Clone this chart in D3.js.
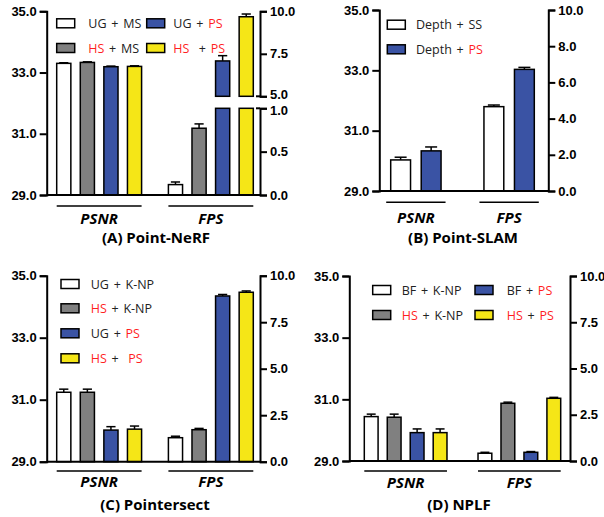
<!DOCTYPE html>
<html>
<head>
<meta charset="utf-8">
<script src="https://cdn.jsdelivr.net/npm/d3@7"></script>
<style>
  body { margin: 0; background: #fff; }
  svg { display: block; }
</style>
</head>
<body>
<svg width="604" height="517"></svg>
<script>
// metric groups on the x axis
let groups = ["PSNR", "FPS"];

// (A) Point-NeRF
let seriesA = ["UG + MS", "HS + MS", "UG + PS", "HS  + PS"];
let psnrA = [33.30, 33.33, 33.19, 33.20];
let psnrErrA = [0.02, 0.02, 0.02, 0.02];
let fpsA = [0.12, 0.77, 7.08, 9.68];
let fpsErrA = [0.03, 0.05, 0.31, 0.16];

// (B) Point-SLAM
let seriesB = ["Depth + SS", "Depth + PS"];
let psnrB = [30.03, 30.33];
let psnrErrB = [0.09, 0.13];
let fpsB = [4.66, 6.72];
let fpsErrB = [0.09, 0.11];

// (C) Pointersect
let seriesC = ["UG + K-NP", "HS + K-NP", "UG + PS", "HS +  PS"];
let psnrC = [31.24, 31.24, 30.02, 30.05];
let psnrErrC = [0.10, 0.10, 0.11, 0.10];
let fpsC = [1.29, 1.72, 8.91, 9.11];
let fpsErrC = [0.08, 0.07, 0.08, 0.07];

// (D) NPLF
let seriesD = ["BF + K-NP", "HS + K-NP", "BF + PS", "HS + PS"];
let psnrD = [30.44, 30.42, 29.92, 29.92];
let psnrErrD = [0.08, 0.10, 0.12, 0.12];
let fpsD = [0.42, 3.12, 0.47, 3.39];
let fpsErrD = [0.05, 0.06, 0.04, 0.05];

// tick labels
let psnrTicks = [29, 31, 33, 35];
let fpsTicksLowA = [0, 0.5, 1];
let fpsTicksHighA = [5, 7.5, 10];
let fpsTicksB = [0, 2, 4, 6, 8, 10];
let fpsTicksCD = [0, 2.5, 5, 7.5, 10];

let fourColors = ["#ffffff", "#808080", "#3a53a4", "#f5e617"];
let twoColors = ["#ffffff", "#3a53a4"];
let red = "#ff1f1f";

let svg = d3.select("svg");

let fmt = d3.format(".1f");

let styleAxis = (g) => {
    g.select(".domain").attr("stroke", "#000").attr("stroke-width", 2);
    g.selectAll(".tick line").attr("stroke", "#000").attr("stroke-width", 2);
    g.selectAll(".tick text")
        .attr("fill", "#000")
        .style("font-family", "'Liberation Sans', Arial, sans-serif")
        .style("font-weight", "bold")
        .style("font-size", "13px");
};

let addLabel = (sel, label) => {
    label.split(/(HS|PS)/).forEach((part) => {
        if (part === "") return;
        sel.append("tspan")
            .attr("fill", (part === "HS" || part === "PS") ? red : "#222")
            .text(part);
    });
};

let drawPanel = (p) => {
    let g = svg.append("g");

    let yLeft = d3.scaleLinear().domain([29, 35]).range([p.bottom, p.top]);

    let x0 = d3.scaleBand().domain(groups).range(p.barsRange).paddingInner(p.groupPad);
    let x1 = d3.scaleBand().domain(d3.range(p.series.length))
        .range([0, x0.bandwidth()]).paddingInner(p.barPad);

    let yLow, yHigh, yRight;
    if (p.broken) {
        yLow = d3.scaleLinear().domain([0, 1]).range([p.bottom, p.breakLow]);
        yHigh = d3.scaleLinear().domain([5, 10]).range([p.breakHigh, p.top]);
    } else {
        yRight = d3.scaleLinear().domain([0, 10]).range([p.bottom, p.top]);
    }

    let bw = x1.bandwidth();
    let capW = Math.min(bw * 0.65, 12);

    let drawBar = (x, yTop, yBase, fill) => {
        g.append("rect")
            .attr("x", x).attr("y", yTop)
            .attr("width", bw).attr("height", yBase - yTop)
            .attr("fill", fill).attr("stroke", "#000").attr("stroke-width", 1.5);
    };
    let drawErr = (x, yTop, yErr) => {
        let cx = x + bw / 2;
        g.append("line").attr("x1", cx).attr("x2", cx).attr("y1", yTop).attr("y2", yErr)
            .attr("stroke", "#000").attr("stroke-width", 1.5);
        g.append("line").attr("x1", cx - capW / 2).attr("x2", cx + capW / 2).attr("y1", yErr).attr("y2", yErr)
            .attr("stroke", "#000").attr("stroke-width", 1.5);
    };

    // PSNR bars
    p.psnr.forEach((v, i) => {
        let x = x0("PSNR") + x1(i);
        drawErr(x, yLeft(v), yLeft(v + p.psnrErr[i]));
        drawBar(x, yLeft(v), p.bottom, p.colors[i]);
    });

    // FPS bars
    p.fps.forEach((v, i) => {
        let x = x0("FPS") + x1(i);
        let e = p.fpsErr[i];
        if (!p.broken) {
            drawErr(x, yRight(v), yRight(v + e));
            drawBar(x, yRight(v), p.bottom, p.colors[i]);
        } else if (v <= 1) {
            drawErr(x, yLow(v), yLow(v + e));
            drawBar(x, yLow(v), p.bottom, p.colors[i]);
        } else {
            drawBar(x, yLow(1), p.bottom, p.colors[i]);
            drawErr(x, yHigh(v), yHigh(v + e));
            drawBar(x, yHigh(v), yHigh(5), p.colors[i]);
        }
    });

    // baseline
    g.append("line")
        .attr("x1", p.left).attr("x2", p.right)
        .attr("y1", p.bottom).attr("y2", p.bottom)
        .attr("stroke", "#000").attr("stroke-width", 2);

    // left axis
    g.append("g")
        .attr("transform", "translate(" + p.left + ",0)")
        .call(d3.axisLeft(yLeft).tickValues(psnrTicks).tickFormat(fmt).tickSizeOuter(0).tickSize(7).tickPadding(3))
        .call(styleAxis);

    // right axis
    if (p.broken) {
        g.append("g")
            .attr("transform", "translate(" + p.right + ",0)")
            .call(d3.axisRight(yHigh).tickValues(fpsTicksHighA).tickFormat(fmt).tickSizeOuter(0).tickSize(7).tickPadding(3))
            .call(styleAxis)
            .call((a) => a.selectAll(".tick text").filter((d) => d === 5).attr("dy", "0.2em"));
        g.append("g")
            .attr("transform", "translate(" + p.right + ",0)")
            .call(d3.axisRight(yLow).tickValues(fpsTicksLowA).tickFormat(fmt).tickSizeOuter(0).tickSize(7).tickPadding(3))
            .call(styleAxis)
            .call((a) => a.selectAll(".tick text").filter((d) => d === 1).attr("dy", "0.5em"));
        [yHigh(5), yLow(1)].forEach((yy) => {
            g.append("line").attr("x1", p.right - 4).attr("x2", p.right)
                .attr("y1", yy).attr("y2", yy).attr("stroke", "#000").attr("stroke-width", 2);
        });
    } else {
        g.append("g")
            .attr("transform", "translate(" + p.right + ",0)")
            .call(d3.axisRight(yRight).tickValues(p.fpsTicks).tickFormat(fmt).tickSizeOuter(0).tickSize(7).tickPadding(3))
            .call(styleAxis);
    }

    // group underlines and labels
    groups.forEach((grp) => {
        let gx = x0(grp);
        g.append("line")
            .attr("x1", gx - p.lineExt).attr("x2", gx + x0.bandwidth() + p.lineExt)
            .attr("y1", p.lineY).attr("y2", p.lineY)
            .attr("stroke", "#000").attr("stroke-width", 1.5);
        g.append("text")
            .attr("x", gx + x0.bandwidth() / 2).attr("y", p.groupLabelY)
            .attr("text-anchor", "middle")
            .style("font-family", "'Open Sans', sans-serif")
            .style("font-weight", "bold").style("font-style", "italic")
            .style("font-size", "15px")
            .text(grp);
    });

    // panel title
    g.append("text")
        .attr("x", p.titleX).attr("y", p.titleY)
        .attr("text-anchor", "middle")
        .style("font-family", "'Open Sans', sans-serif")
        .style("font-weight", "bold").style("font-size", "15px")
        .text(p.title);

    // legend
    p.series.forEach((s, i) => {
        let pos = p.legend[i];
        g.append("rect")
            .attr("x", pos[0]).attr("y", pos[1] - 4.5)
            .attr("width", 18).attr("height", 9)
            .attr("fill", p.colors[i]).attr("stroke", "#000").attr("stroke-width", 1.5);
        let t = g.append("text")
            .attr("x", pos[0] + pos[2]).attr("y", pos[1] + 4.5)
            .attr("xml:space", "preserve")
            .style("white-space", "pre")
            .style("font-family", "'Open Sans', sans-serif")
            .style("font-size", "12.5px")
            .style("word-spacing", "1.5px");
        addLabel(t, s);
    });
};

drawPanel({
    series: seriesA, colors: fourColors,
    psnr: psnrA, psnrErr: psnrErrA, fps: fpsA, fpsErr: fpsErrA,
    left: 46.7, right: 260, top: 11.3, bottom: 195,
    broken: true, breakLow: 108.3, breakHigh: 96.3,
    barsRange: [56.7, 253.3], groupPad: 0.24, barPad: 0.4,
    lineY: 206, lineExt: 0, groupLabelY: 223.5,
    title: "(A) Point-NeRF", titleX: 156, titleY: 242.5,
    legend: [[56.7, 23.3, 31.6], [56.7, 48, 31.6], [146.7, 23.3, 26.6], [146.7, 48, 26.6]]
});

drawPanel({
    series: seriesB, colors: twoColors,
    psnr: psnrB, psnrErr: psnrErrB, fps: fpsB, fpsErr: fpsErrB,
    left: 379.3, right: 548.3, top: 10, bottom: 191,
    broken: false, fpsTicks: fpsTicksB,
    barsRange: [390.7, 534.3], groupPad: 0.46, barPad: 0.35,
    lineY: 202.3, lineExt: 4.5, groupLabelY: 222.7,
    title: "(B) Point-SLAM", titleX: 463, titleY: 243,
    legend: [[387.3, 24.7, 28.7], [387.3, 49.3, 28.7]]
});

drawPanel({
    series: seriesC, colors: fourColors,
    psnr: psnrC, psnrErr: psnrErrC, fps: fpsC, fpsErr: fpsErrC,
    left: 46.7, right: 260, top: 275.7, bottom: 461.7,
    broken: false, fpsTicks: fpsTicksCD,
    barsRange: [56.7, 253.3], groupPad: 0.24, barPad: 0.4,
    lineY: 471, lineExt: 0, groupLabelY: 487.3,
    title: "(C) Pointersect", titleX: 155, titleY: 510,
    legend: [[61, 284, 29.7], [61, 308.3, 29.7], [61, 333.3, 29.7], [61, 358.3, 29.7]]
});

drawPanel({
    series: seriesD, colors: fourColors,
    psnr: psnrD, psnrErr: psnrErrD, fps: fpsD, fpsErr: fpsErrD,
    left: 349.3, right: 570, top: 276, bottom: 461,
    broken: false, fpsTicks: fpsTicksCD,
    barsRange: [364.3, 560.7], groupPad: 0.273, barPad: 0.4,
    lineY: 471, lineExt: 0, groupLabelY: 487.7,
    title: "(D) NPLF", titleX: 459, titleY: 510,
    legend: [[372.7, 290, 29], [372.7, 315, 29], [475, 290, 31.7], [475, 315, 31.7]]
});
</script>
</body>
</html>
